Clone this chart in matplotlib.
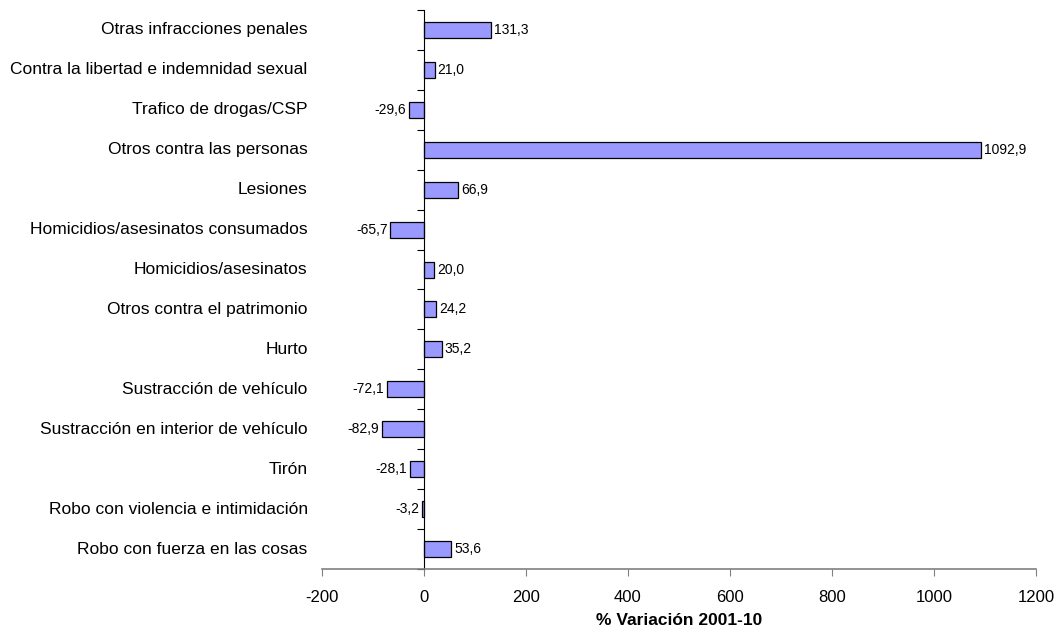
import numpy as np
import matplotlib.pyplot as plt

plt.rcParams['font.family'] = ['Liberation Sans', 'DejaVu Sans']
plt.rcParams['axes.unicode_minus'] = False

# Categories listed top to bottom as they appear in the chart
categorias = [
    'Otras infracciones penales',
    'Contra la libertad e indemnidad sexual',
    'Trafico de drogas/CSP',
    'Otros contra las personas',
    'Lesiones',
    'Homicidios/asesinatos consumados',
    'Homicidios/asesinatos',
    'Otros contra el patrimonio',
    'Hurto',
    'Sustracción de vehículo',
    'Sustracción en interior de vehículo',
    'Tirón',
    'Robo con violencia e intimidación',
    'Robo con fuerza en las cosas',
]
variacion = [131.3, 21.0, -29.6, 1092.9, 66.9, -65.7, 20.0, 24.2, 35.2,
             -72.1, -82.9, -28.1, -3.2, 53.6]

n = len(categorias)
y = np.arange(n)[::-1]

fig = plt.figure(figsize=(10.62, 6.32), dpi=100)
ax = fig.add_axes([0.3032, 0.0997, 0.6723, 0.8845])

bars = ax.barh(y, variacion, height=0.4, color='#9999FF', edgecolor='black', linewidth=0.9, zorder=2)
ax.bar_label(bars, labels=[f'{v:.1f}'.replace('.', ',') for v in variacion],
             padding=2, fontsize=10)

ax.set_xlim(-200, 1200)
ax.set_ylim(-0.5, n - 0.5)
ax.set_xticks(np.arange(-200, 1201, 200))
ax.tick_params(axis='x', direction='out', length=5, color='#808080', labelsize=12, pad=10)

# vertical axis sits on zero, ticks between categories
ax.spines['left'].set_position(('data', 0))
ax.spines['left'].set_color('black')
ax.spines['bottom'].set_color('#808080')
ax.spines['bottom'].set_linewidth(1.2)
ax.spines['top'].set_visible(False)
ax.spines['right'].set_visible(False)
ax.set_yticks(np.arange(-0.5, n, 1.0))
ax.set_yticklabels([])
ax.tick_params(axis='y', direction='out', length=5, color='black')

for yi, cat in zip(y, categorias):
    ax.text(-0.02, yi, cat, transform=ax.get_yaxis_transform(), ha='right', va='center', fontsize=12.5)

ax.set_xlabel('% Variación 2001-10', fontsize=12.5, fontweight='bold', labelpad=6)

fig.savefig('out.png', dpi=100)
